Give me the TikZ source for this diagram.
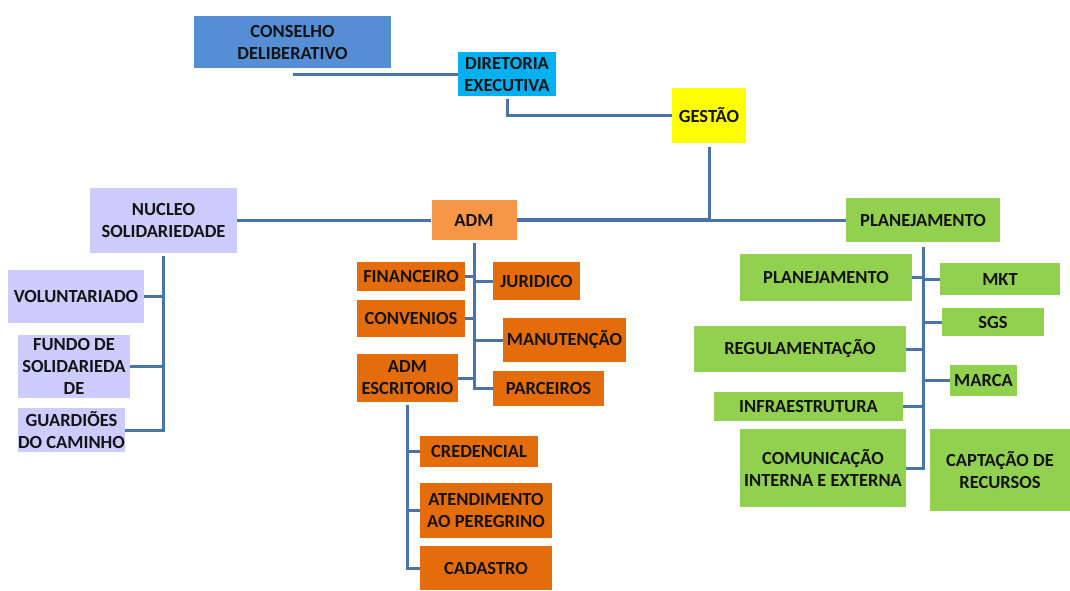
\documentclass[tikz,border=0pt]{standalone}
\usepackage{fontspec}
\setmainfont{Carlito}
\usepackage{tikz}

\definecolor{conselhoblue}{RGB}{85,142,213}
\definecolor{diretoriacyan}{RGB}{0,176,240}
\definecolor{gestaoyellow}{RGB}{255,255,0}
\definecolor{admorange}{RGB}{247,150,70}
\definecolor{setororange}{RGB}{228,108,10}
\definecolor{nucleolilac}{RGB}{204,204,255}
\definecolor{planejgreen}{RGB}{146,208,80}
\definecolor{linkblue}{RGB}{74,116,168}
\definecolor{textdark}{RGB}{20,20,20}

\begin{document}
\begin{tikzpicture}[x=1pt, y=-1pt, boxnode/.style={rectangle, inner sep=0pt, align=center, text=textdark}, nucleonode/.style={boxnode, fill=nucleolilac}, admnode/.style={boxnode, fill=setororange}, planejnode/.style={boxnode, fill=planejgreen}, linkline/.style={draw=linkblue, line width=3pt}]

\tikzstyle{every node}=[font=\bfseries\fontsize{18.5}{22}\selectfont]

\path[use as bounding box, fill=white] (0,0) rectangle (1070,590);

%Nodes
\node[boxnode, fill=conselhoblue, minimum width=197pt, minimum height=52pt]  (conselho)  at (292.5,42)  {CONSELHO\\DELIBERATIVO};
\node[boxnode, fill=diretoriacyan, minimum width=98pt, minimum height=44pt]  (diretoria) at (507,74)    {DIRETORIA\\EXECUTIVA};
\node[boxnode, fill=gestaoyellow, minimum width=74pt, minimum height=55pt]   (gestao)    at (709,115.5) {GESTÃO};
\node[boxnode, fill=admorange, minimum width=85pt, minimum height=40pt]      (adm)       at (474,220)   {ADM};
\node[nucleonode, minimum width=147pt, minimum height=65pt]   (nucleo)     at (163.5,220) {NUCLEO\\SOLIDARIEDADE};
\node[planejnode, minimum width=154pt, minimum height=44pt]   (planej)     at (923,220)   {PLANEJAMENTO};

% nucleo
\node[nucleonode, minimum width=136pt, minimum height=53pt]   (volunt)     at (76,296.5)  {VOLUNTARIADO};
\node[nucleonode, minimum width=112pt, minimum height=63pt]   (fundo)      at (74,366.5)  {FUNDO DE\\SOLIDARIEDA\\DE};
\node[nucleonode, minimum width=107pt, minimum height=44pt]   (guardioes)  at (71.5,430)  {GUARDIÕES\\DO CAMINHO};

% adm
\node[admnode, minimum width=108pt, minimum height=29pt]      (financeiro) at (411,276.5) {FINANCEIRO};
\node[admnode, minimum width=108pt, minimum height=37pt]      (convenios)  at (411,318.5) {CONVENIOS};
\node[admnode, minimum width=101pt, minimum height=48pt]      (admesc)     at (407.5,378) {ADM\\ESCRITORIO};
\node[admnode, minimum width=87pt, minimum height=38pt]       (juridico)   at (536.5,281) {JURIDICO};
\node[admnode, minimum width=123pt, minimum height=44pt]      (manut)      at (564.5,340) {MANUTENÇÃO};
\node[admnode, minimum width=111pt, minimum height=35pt]      (parceiros)  at (548.5,388.5) {PARCEIROS};
\node[admnode, minimum width=118pt, minimum height=31pt]      (credencial) at (479,451.5) {CREDENCIAL};
\node[admnode, minimum width=132pt, minimum height=55pt]      (atend)      at (486,510.5) {ATENDIMENTO\\AO PEREGRINO};
\node[admnode, minimum width=132pt, minimum height=44pt]      (cadastro)   at (486,568)   {CADASTRO};

% planejamento
\node[planejnode, minimum width=172pt, minimum height=47pt]   (planejsub)  at (826,277.5) {PLANEJAMENTO};
\node[planejnode, minimum width=120pt, minimum height=32pt]   (mkt)        at (1000,279)  {MKT};
\node[planejnode, minimum width=102pt, minimum height=28pt]   (sgs)        at (993,322)   {SGS};
\node[planejnode, minimum width=212pt, minimum height=46pt]   (regul)      at (800,349)   {REGULAMENTAÇÃO};
\node[planejnode, minimum width=67pt, minimum height=31pt]    (marca)      at (983.5,380.5) {MARCA};
\node[planejnode, minimum width=189pt, minimum height=29pt]   (infra)      at (808.5,406.5) {INFRAESTRUTURA};
\node[planejnode, minimum width=166pt, minimum height=78pt]   (comun)      at (823,468)   {COMUNICAÇÃO\\INTERNA E EXTERNA};
\node[planejnode, minimum width=140pt, minimum height=82pt]   (captacao)   at (1000,470)  {CAPTAÇÃO DE\\RECURSOS};

%Lines
\draw[linkline] (diretoria.west) -- (diretoria.west -| conselho.south);
\draw[linkline, shorten <=3pt] (diretoria.south) |- (gestao.west);
\draw[linkline, shorten <=4pt] (gestao.south) |- (planej.west);
\draw[linkline, line width=4.5pt] (adm.east) -- (adm.east -| gestao.south);
\draw[linkline] (nucleo.east) -- (adm.west);

\draw[linkline, shorten <=3pt] (nucleo.south) |- (guardioes.east);
\draw[linkline] (volunt.east) -- (volunt.east -| nucleo.south);
\draw[linkline] (fundo.east) -- (fundo.east -| nucleo.south);

\draw[linkline, shorten <=3pt] (adm.south) |- (parceiros.west);
\draw[linkline] (financeiro.east) -- (financeiro.east -| adm.south);
\draw[linkline] (convenios.east) -- (convenios.east -| adm.south);
\draw[linkline] (admesc.east) -- (admesc.east -| adm.south);
\draw[linkline] (juridico.west) -- (juridico.west -| adm.south);
\draw[linkline] (manut.west) -- (manut.west -| adm.south);

\draw[linkline, shorten <=3pt] (admesc.south) |- (cadastro.west);
\draw[linkline] (credencial.west) -- (credencial.west -| admesc.south);
\draw[linkline] (atend.west) -- (atend.west -| admesc.south);

\draw[linkline, shorten <=5pt] (planej.south) |- (comun.east);
\draw[linkline] (planejsub.east) -- (planejsub.east -| planej.south);
\draw[linkline] (mkt.west) -- (mkt.west -| planej.south);
\draw[linkline] (sgs.west) -- (sgs.west -| planej.south);
\draw[linkline] (regul.east) -- (regul.east -| planej.south);
\draw[linkline] (marca.west) -- (marca.west -| planej.south);
\draw[linkline] (infra.east) -- (infra.east -| planej.south);

\end{tikzpicture}
\end{document}
